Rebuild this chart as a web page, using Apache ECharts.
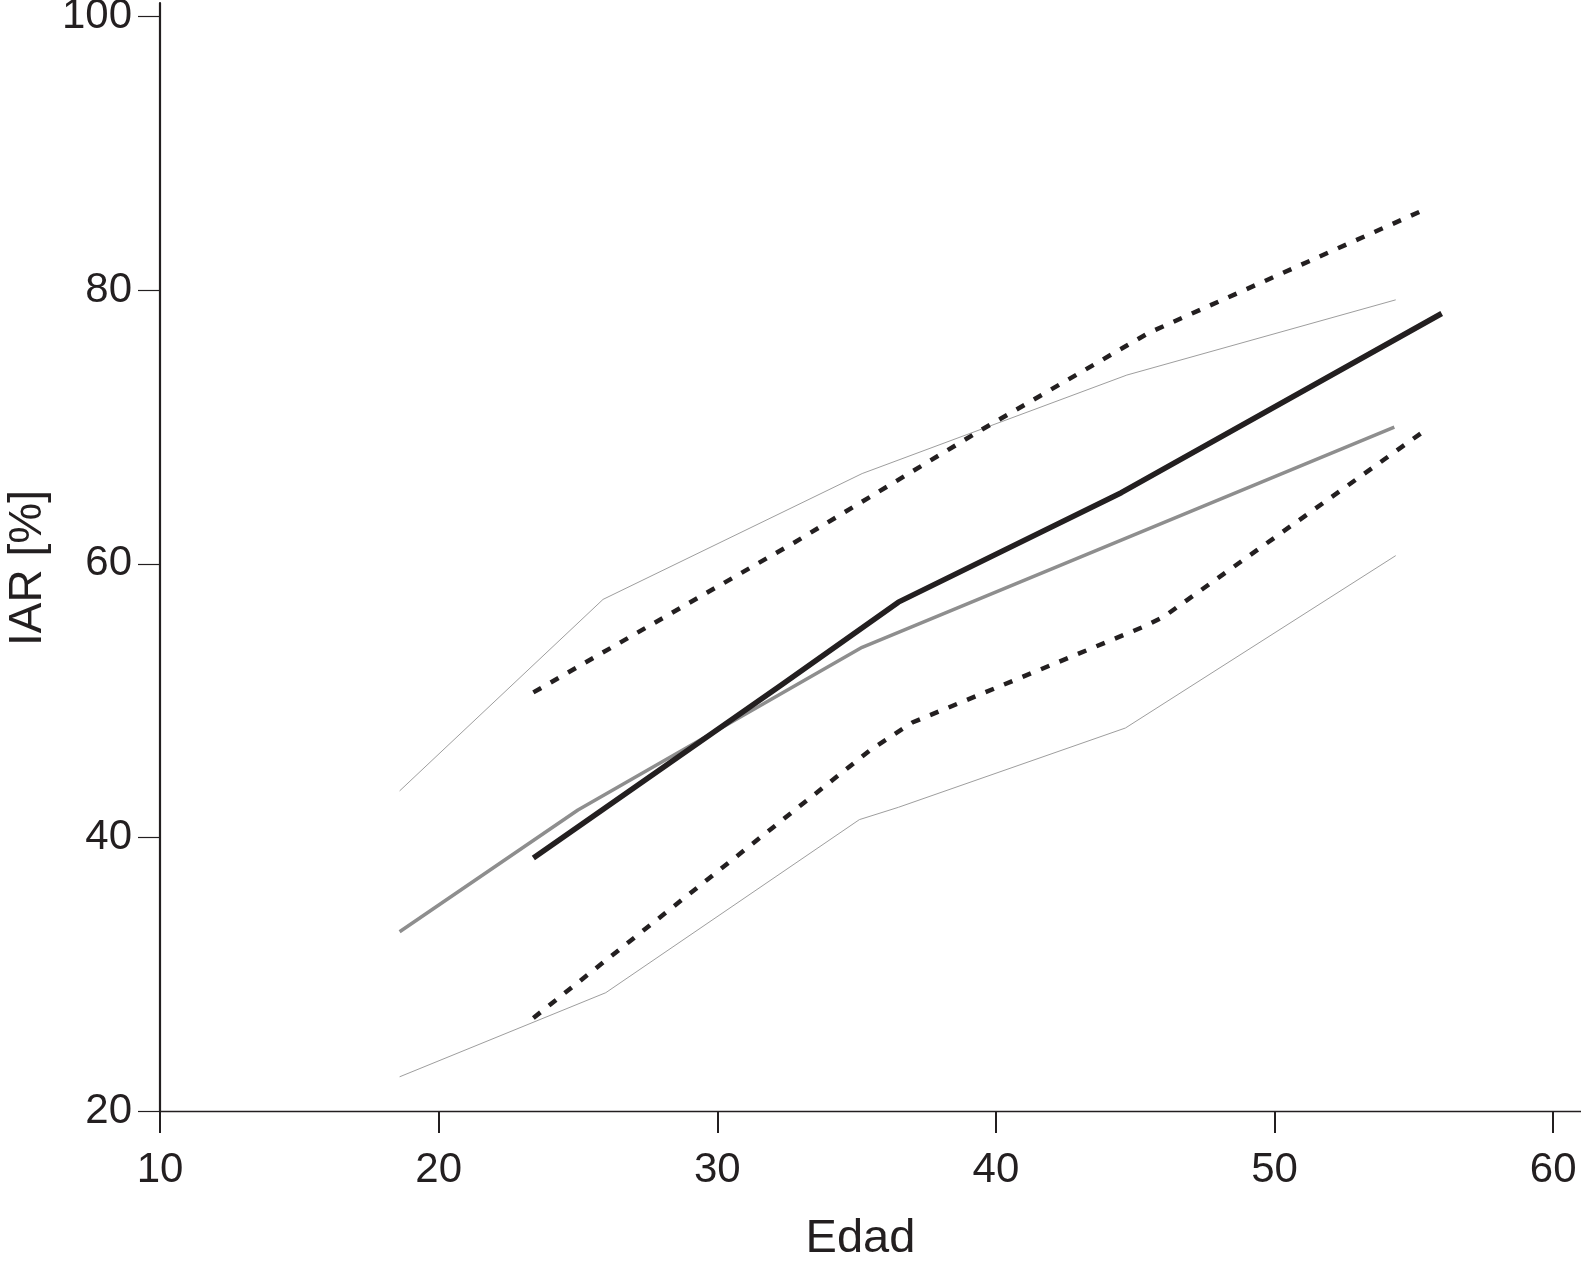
<!DOCTYPE html>
<html>
<head>
<meta charset="utf-8">
<script src="https://cdn.jsdelivr.net/npm/echarts@6/dist/echarts.min.js"></script>
<style>
  html, body { margin: 0; padding: 0; background: #ffffff; }
  #chart { width: 1581px; height: 1265px; }
</style>
</head>
<body>
<div id="chart"></div>
<script>
// Tick values
const xTicks = [10, 20, 30, 40, 50, 60];
const yTicks = [20, 40, 60, 80, 100];

// Series data: [Edad, IAR %]
const thinUpper = [[18.6, 43.4], [25.9, 57.4], [35.2, 66.6], [44.7, 73.8], [54.35, 79.3]];
const thinLower = [[18.6, 22.5], [26.0, 28.65], [35.1, 41.3], [36.5, 42.2], [44.65, 48.0], [54.35, 60.6]];
const grayMean = [[18.6, 33.1], [25.0, 42.0], [35.2, 53.9], [54.3, 70.0]];
const dottedUpper = [[23.4, 50.6], [32.8, 61.6], [39.4, 69.7], [45.5, 76.9], [55.5, 86.0]];
const dottedLower = [[23.4, 26.8], [35.5, 46.4], [37.0, 48.4], [45.3, 55.4], [46.0, 56.1], [55.5, 69.9]];
const blackMean = [[23.4, 38.5], [32.3, 51.15], [36.5, 57.2], [44.5, 65.2], [56.0, 78.3]];

const ink = '#231f20';
const fontFam = '"Liberation Sans", Arial, Helvetica, sans-serif';

const chart = echarts.init(document.getElementById('chart'), null, { renderer: 'canvas' });

function lineSeries(data, color, width, type, z) {
  return {
    type: 'line',
    data: data,
    showSymbol: false,
    symbol: 'none',
    smooth: false,
    clip: false,
    z: z,
    lineStyle: { color: color, width: width, type: type, cap: 'butt', join: 'round' },
    emphasis: { disabled: true }
  };
}

chart.setOption({
  animation: false,
  backgroundColor: '#ffffff',
  grid: { left: 160, right: 0, top: 3, bottom: 154, containLabel: false, outerBoundsMode: 'none' },
  xAxis: {
    type: 'value',
    min: 10,
    max: 61,
    name: 'Edad',
    nameLocation: 'middle',
    nameGap: 104,
    nameTextStyle: { color: ink, fontSize: 47, fontFamily: fontFam, lineHeight: 48, padding: [0, 20, 0, 0] },
    axisLine: { show: true, onZero: false, lineStyle: { color: ink, width: 1.3 } },
    axisTick: { show: true, inside: false, length: 22, customValues: xTicks, lineStyle: { color: ink, width: 2 } },
    axisLabel: { show: true, margin: 38, customValues: xTicks, color: ink, fontSize: 42, fontFamily: fontFam, lineHeight: 42 },
    splitLine: { show: false }
  },
  yAxis: {
    type: 'value',
    min: 20,
    max: 101,
    name: 'IAR [%]',
    nameLocation: 'middle',
    nameGap: 105,
    nameTextStyle: { color: ink, fontSize: 46, fontFamily: fontFam, lineHeight: 46, padding: [0, 22, 0, 0] },
    axisLine: { show: true, onZero: false, lineStyle: { color: ink, width: 2.2 } },
    axisTick: { show: true, inside: false, length: 22, customValues: yTicks, lineStyle: { color: ink, width: 1.2 } },
    axisLabel: { show: true, margin: 28, customValues: yTicks, color: ink, fontSize: 42, fontFamily: fontFam },
    splitLine: { show: false }
  },
  series: [
    lineSeries(thinUpper, '#9e9e9e', 1, 'solid', 1),
    lineSeries(thinLower, '#9e9e9e', 1, 'solid', 1),
    lineSeries(grayMean, '#8e8e8e', 3.5, 'solid', 2),
    lineSeries(dottedUpper, ink, 4.5, [9, 11], 3),
    lineSeries(dottedLower, ink, 4.5, [9, 11], 3),
    lineSeries(blackMean, ink, 5.5, 'solid', 4)
  ]
});
</script>
</body>
</html>
